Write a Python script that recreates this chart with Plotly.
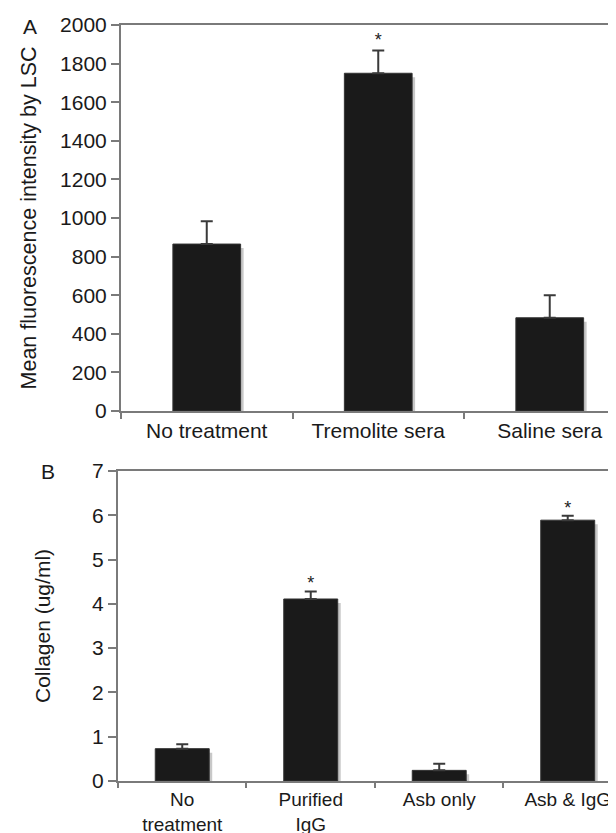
import plotly.graph_objects as go

# Panel A data
a_categories = ["No treatment", "Tremolite sera", "Saline sera"]
a_values = [865, 1750, 483]
a_err = [118, 118, 117]
a_sig = [False, True, False]

# Panel B data
b_categories = ["No<br>treatment", "Purified<br>IgG", "Asb only", "Asb & IgG"]
b_values = [0.73, 4.11, 0.24, 5.89]
b_err = [0.10, 0.17, 0.15, 0.10]
b_sig = [False, True, False, True]

a_ticks = [0, 200, 400, 600, 800, 1000, 1200, 1400, 1600, 1800, 2000]
b_ticks = [0, 1, 2, 3, 4, 5, 6, 7]

FONT = "Liberation Sans, Arial, sans-serif"
AX = "#7a7a7a"
BAR = "#1a1a1a"
SHADOW = "#c8c8c8"
TXT = "#1a1a1a"

fig = go.Figure()

def add_panel(cats, vals, errs, sig, xa, ya, width, px_per_unit, px_per_cat, star_pad_px):
    xref = "x" if xa == 1 else f"x{xa}"
    yref = "y" if ya == 1 else f"y{ya}"
    # shadow (offset right by ~3px, starting ~4px lower)
    dx = 3.0 / px_per_cat
    dy = 4.0 / px_per_unit
    fig.add_trace(go.Bar(
        x=cats, y=[v - dy for v in vals], width=width,
        offset=-width / 2 + dx,
        marker=dict(color=SHADOW, line=dict(width=0)),
        xaxis=xref, yaxis=yref, showlegend=False, hoverinfo="skip"))
    fig.add_trace(go.Bar(
        x=cats, y=vals, width=width, offset=-width / 2,
        marker=dict(color=BAR, line=dict(color="#333333", width=1)),
        error_y=dict(type="data", array=errs, arrayminus=[0] * len(errs),
                     symmetric=False, color="#3a3a3a", thickness=2, width=6),
        xaxis=xref, yaxis=yref, showlegend=False))
    pad = star_pad_px / px_per_unit
    sx = [c for c, s in zip(cats, sig) if s]
    sy = [v + e + pad for v, e, s in zip(vals, errs, sig) if s]
    fig.add_trace(go.Scatter(
        x=sx, y=sy, mode="text", text=["*"] * len(sx),
        textfont=dict(family=FONT, size=18, color="#222"),
        textposition="middle center",
        xaxis=xref, yaxis=yref, showlegend=False, hoverinfo="skip"))

add_panel(a_categories, a_values, a_err, a_sig, 1, 1, 0.395, 386 / 2000, 171.5, 8.5)
add_panel(b_categories, b_values, b_err, b_sig, 2, 2, 0.42, 310 / 7, 128.5, 6.5)

axis_common = dict(showline=True, linecolor=AX, linewidth=2, showgrid=False,
                   zeroline=False, automargin=False)

fig.update_layout(
    width=616, height=833,
    margin=dict(l=0, r=0, t=0, b=0, autoexpand=False),
    paper_bgcolor="white", plot_bgcolor="white",
    barmode="overlay",
    font=dict(family=FONT, size=21, color=TXT),
    xaxis=dict(domain=[113 / 616, 1], range=[-0.5, 2.433], type="category",
               categoryorder="array", categoryarray=a_categories,
               tickson="boundaries", ticks="outside", ticklen=6, tickcolor=AX,
               tickwidth=2, mirror=True, anchor="y",
               tickfont=dict(family=FONT, size=21, color=TXT), **axis_common),
    yaxis=dict(domain=[1 - 403 / 833, 1 - 17 / 833], range=[0, 2000],
               tickvals=a_ticks, ticks="outside", ticklen=8, tickcolor=AX,
               tickwidth=2, anchor="x",
               tickfont=dict(family=FONT, size=21, color=TXT),
               title=dict(text="Mean fluorescence intensity by LSC",
                          font=dict(family=FONT, size=21.5, color=TXT),
                          standoff=18),
               **axis_common),
    xaxis2=dict(domain=[110 / 616, 1], range=[-0.5, 3.438], type="category",
                categoryorder="array", categoryarray=b_categories,
                tickson="boundaries", ticks="outside", ticklen=5, tickcolor=AX,
                tickwidth=2, mirror=True, anchor="y2",
                tickfont=dict(family=FONT, size=19, color=TXT), **axis_common),
    yaxis2=dict(domain=[1 - 773 / 833, 1 - 463 / 833], range=[0, 7],
                tickvals=b_ticks, ticks="outside", ticklen=8, tickcolor=AX,
                tickwidth=2, anchor="x2",
                tickfont=dict(family=FONT, size=21, color=TXT),
                title=dict(text="Collagen (ug/ml)",
                           font=dict(family=FONT, size=21, color=TXT),
                           standoff=36),
                **axis_common),
    annotations=[
        dict(text="A", x=22 / 616, y=1 - 19 / 833, xref="paper", yref="paper",
             xanchor="center", yanchor="middle",
             showarrow=False, font=dict(family=FONT, size=21, color=TXT)),
        dict(text="B", x=40 / 616, y=1 - 463 / 833, xref="paper", yref="paper",
             xanchor="center", yanchor="middle",
             showarrow=False, font=dict(family=FONT, size=21, color=TXT)),
    ],
)

fig.write_html("out.html")
